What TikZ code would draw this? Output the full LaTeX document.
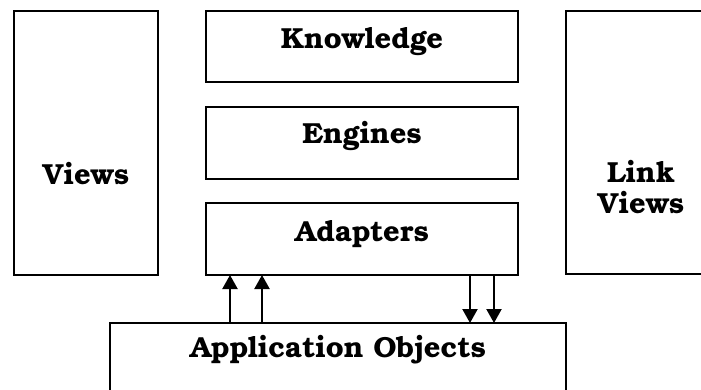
\documentclass[tikz,border=0pt]{standalone}
\usepackage{fontspec}
\setmainfont{TeX Gyre Bonum}
\usetikzlibrary{arrows.meta,positioning}

\tikzset{
    box/.style={draw, line width=2.2pt, inner sep=0pt, outer sep=0pt},
    lbl/.style={font=\bfseries\fontsize{29}{31}\selectfont, inner sep=0pt, anchor=base, align=center},
    arr/.style={line width=2.2pt, -{Triangle[length=14pt,width=15pt]}}
}

\begin{document}
\begin{tikzpicture}[x=1pt,y=-1pt]
    \clip (0,0) rectangle (701,390);
    % layers
    \node[box, minimum width=144pt, minimum height=264pt] (views) at (86,143) {};
    \node[box, minimum width=312pt, minimum height=71pt] (know) at (362,46.5) {};
    \node[box, minimum width=312pt, minimum height=72pt] (eng) at (362,143) {};
    \node[box, minimum width=312pt, minimum height=72pt] (adapt) at (362,239) {};
    \node[box, minimum width=144pt, minimum height=263pt] (link) at (638,142.5) {};
    \node[box, minimum width=456pt, minimum height=80pt] (app) at (338,363) {};

    \node[lbl] (viewsT) at (86,185) {Views};
    \node[lbl] (knowT) at (362,49) {Knowledge};
    \node[lbl] (engT) at (362,144) {Engines};
    \node[lbl] (adaptT) at (362,241) {Adapters};
    \node[lbl] (linkT) at (641,213) {Link\\Views};
    \node[lbl] (appT) at (338,357) {Application Objects};

    % calls between adapters and objects
    \coordinate (up1) at (230,0);
    \coordinate (up2) at (262,0);
    \coordinate (dn1) at (470,0);
    \coordinate (dn2) at (494,0);
    \draw[arr] (app.north -| up1) -- (adapt.south -| up1);
    \draw[arr] (app.north -| up2) -- (adapt.south -| up2);
    \draw[arr] (adapt.south -| dn1) -- (app.north -| dn1);
    \draw[arr] (adapt.south -| dn2) -- (app.north -| dn2);
\end{tikzpicture}
\end{document}
